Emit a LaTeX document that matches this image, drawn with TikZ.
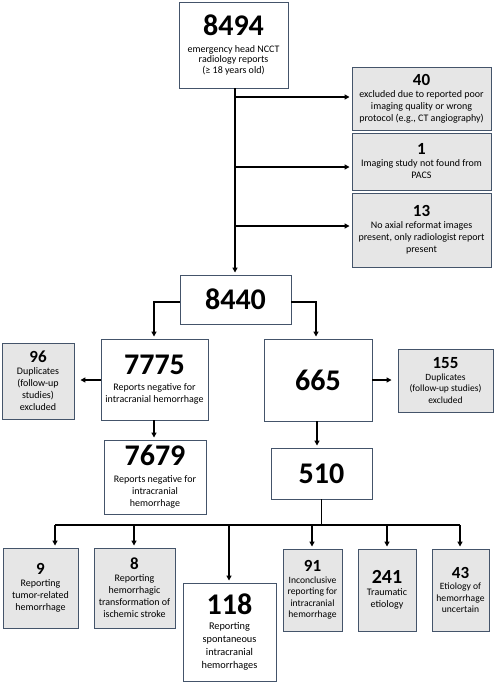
\documentclass[tikz,border=0pt]{standalone}
\usepackage{fontspec}
\setmainfont{Carlito}
\usetikzlibrary{arrows.meta}
\definecolor{bord}{RGB}{68,84,106}
\definecolor{boxgray}{RGB}{230,230,230}
\tikzset{
  box/.style={draw=bord, line width=0.9pt, fill=white, align=center, inner sep=1pt,
    font=\fontsize{10}{12}\selectfont},
  gbox/.style={box, fill=boxgray},
  conn/.style={line width=1.5pt, black},
  arr/.style={conn, -{Triangle[length=5pt,width=5pt]}, shorten >=2pt},
  arrg/.style={conn, -{Triangle[length=5pt,width=5pt]}, shorten >=6pt},
}
\newcommand{\bignum}[1]{{\fontsize{30}{32}\selectfont\bfseries #1}}
\newcommand{\midnum}[1]{{\fontsize{17}{19}\selectfont\bfseries #1}}
\begin{document}
\begin{tikzpicture}[x=1pt,y=-1pt]
\useasboundingbox[fill=white] (0,0) rectangle (494,685);

% top box
\node[box, minimum width=109pt, minimum height=86pt, font=\fontsize{10}{10.8}\selectfont] (n8494) at (233.5,45)
  {\bignum{8494}\\[6pt] emergency head NCCT\\ radiology reports\\ (≥ 18 years old)};

% exclusion boxes
\node[gbox, minimum width=139pt, minimum height=63pt] (e40) at (421.5,98.5)
  {\midnum{40}\\ excluded due to reported poor\\ imaging quality or wrong\\ protocol (e.g., CT angiography)};
\node[gbox, minimum width=139pt, minimum height=57pt] (e1) at (421.5,161.5)
  {\midnum{1}\\ Imaging study not found from\\ PACS};
\node[gbox, minimum width=139pt, minimum height=74pt] (e13) at (421.5,230)
  {\midnum{13}\\ No axial reformat images\\ present, only radiologist report\\ present};

% 8440
\node[box, minimum width=111pt, minimum height=49pt] (n8440) at (235.5,299.5) {\bignum{8440}};

% trunk and branches
\coordinate (t40) at (235,97);
\coordinate (t1) at (235,167);
\coordinate (t13) at (235,226);
\draw[arr] (n8494.south -| t40) -- (t40 |- n8440.north);
\draw[arr] (t40) -- (t40 -| e40.west);
\draw[arr] (t1) -- (t1 -| e1.west);
\draw[arr] (t13) -- (t13 -| e13.west);

% second level
\node[box, minimum width=107pt, minimum height=81pt] (n7775) at (154.5,379.5)
  {\bignum{7775}\\[4pt] Reports negative for\\ intracranial hemorrhage};
\node[gbox, minimum width=72pt, minimum height=76pt] (d96) at (38,381)
  {\midnum{96}\\ Duplicates\\ (follow-up\\ studies)\\ excluded};
\node[box, minimum width=108pt, minimum height=82pt] (n665) at (318,380) {\bignum{665}};
\node[gbox, minimum width=95pt, minimum height=63pt, font=\fontsize{9.5}{11.5}\selectfont] (d155) at (445.5,380.5)
  {\midnum{155}\\ Duplicates\\ (follow-up studies)\\ excluded};

\coordinate (l8440) at (154,302);
\coordinate (r8440) at (316,302);
\draw[arr] (n8440.west |- l8440) -- (l8440) -- (l8440 |- n7775.north);
\draw[arr] (n8440.east |- r8440) -- (r8440) -- (r8440 |- n665.north);
\draw[arrg] (n7775.west |- 0,380) -- (d96.east |- 0,380);
\draw[arrg] (n665.east |- 0,380) -- (d155.west |- 0,380);

% third level
\node[box, minimum width=102pt, minimum height=74pt] (n7679) at (155,477)
  {\bignum{7679}\\[5pt] Reports negative for\\ intracranial\\ hemorrhage};
\node[box, minimum width=101pt, minimum height=51pt] (n510) at (321.5,473.5) {\bignum{510}};
\draw[arr] (n7775.south -| l8440) -- (l8440 |- n7679.north);
\draw[arr] (n665.south -| 317,0) -- (317,0 |- n510.north);

% bottom boxes
\node[gbox, minimum width=75pt, minimum height=80pt] (b9) at (40.5,588)
  {\midnum{9}\\ Reporting\\ tumor-related\\ hemorrhage};
\node[gbox, minimum width=81pt, minimum height=80pt] (b8) at (134.5,588)
  {\midnum{8}\\ Reporting\\ hemorrhagic\\ transformation of\\ ischemic stroke};
\node[box, minimum width=93pt, minimum height=98pt, font=\fontsize{10.3}{13}\selectfont] (b118) at (229.5,632)
  {\bignum{118}\\[2pt] Reporting\\ spontaneous\\ intracranial\\ hemorrhages};
\node[gbox, minimum width=59pt, minimum height=82pt, inner sep=0pt, font=\fontsize{9.6}{11.6}\selectfont] (b91) at (312.5,590)
  {\midnum{91}\\ Inconclusive\\ reporting for\\ intracranial\\ hemorrhage};
\node[gbox, minimum width=58pt, minimum height=82pt] (b241) at (387,590)
  {{\fontsize{20}{22}\selectfont\bfseries 241}\\ Traumatic\\ etiology};
\node[gbox, minimum width=57pt, minimum height=82pt, inner sep=0pt, font=\fontsize{9.6}{11.6}\selectfont] (b43) at (460.5,590)
  {\midnum{43}\\ Etiology of\\ hemorrhage\\ uncertain};

% bus
\coordinate (bus) at (321.5,525);
\coordinate (bl) at (55,525);
\coordinate (br) at (460,525);
\draw[conn] (n510.south) -- (bus);
\draw[conn] (bl) -- (br);
\draw[arr] (bl) -- (bl |- b9.north);
\draw[arr] (134,525) -- (134,0 |- b8.north);
\draw[arr] (229,525) -- (229,0 |- b118.north);
\draw[arr] (312,525) -- (312,0 |- b91.north);
\draw[arr] (387,525) -- (387,0 |- b241.north);
\draw[arr] (br) -- (br |- b43.north);
\end{tikzpicture}
\end{document}
